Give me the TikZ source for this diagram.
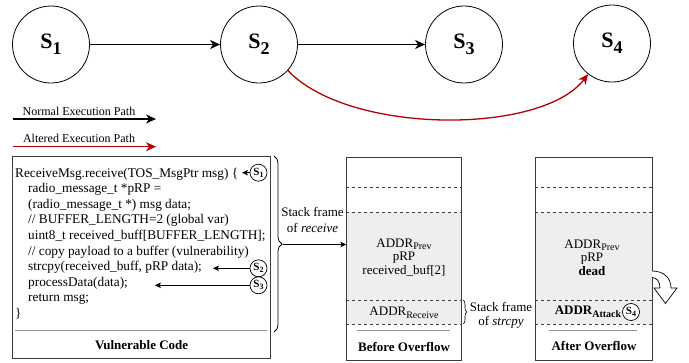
\documentclass[tikz,border=0pt]{standalone}
\usepackage{fontspec}
\setmainfont{Liberation Serif}
\usetikzlibrary{arrows.meta,decorations.pathreplacing,backgrounds}

\definecolor{altred}{RGB}{180,0,0}
\definecolor{stackgray}{RGB}{238,238,238}
\definecolor{boxline}{RGB}{60,60,60}
\definecolor{sepgray}{RGB}{150,150,150}

\newcommand{\statelab}[1]{S\raisebox{-6pt}{\fontsize{18}{18}\selectfont #1}}
\newcommand{\tagstate}[1]{S\raisebox{-2pt}{\fontsize{8}{8}\selectfont #1}}
\newcommand{\subtx}[1]{\raisebox{-2.5pt}{\fontsize{10}{10}\selectfont #1}}

\tikzset{
  statenode/.style={circle, draw, line width=0.8pt, minimum size=77pt, inner sep=0pt,
    font=\fontsize{22}{24}\selectfont\bfseries},
  tagnode/.style={circle, draw, line width=0.7pt, minimum size=17pt, inner sep=0pt,
    fill=white, font=\fontsize{11}{11}\selectfont\bfseries},
  normarrow/.style={line width=1.3pt, -{Stealth[length=10pt,width=9pt,inset=3pt]}},
  altarrow/.style={line width=1.3pt, altred, -{Stealth[length=10pt,width=9pt,inset=3pt]}},
  tagarrow/.style={line width=0.8pt, -{Stealth[length=6pt,width=5.5pt,inset=1.5pt]}},
  codeline/.style={anchor=base west, inner sep=0pt, font=\fontsize{13.3}{15.6}\selectfont},
  legendtxt/.style={inner sep=0pt, font=\fontsize{12}{14}\selectfont},
  lbl/.style={inner sep=0pt, align=center, font=\fontsize{13}{16}\selectfont},
  titletxt/.style={inner sep=0pt, font=\fontsize{13}{15}\selectfont\bfseries},
  codebox/.style={draw=boxline, line width=0.8pt, inner sep=0pt},
  stackbox/.style={draw=boxline, line width=0.8pt, inner sep=0pt},
  dashline/.style={dashed, line width=0.6pt, boxline},
  sepline/.style={line width=0.6pt, sepgray}
}

\begin{document}
\begin{tikzpicture}[x=1pt, y=-1pt]
\useasboundingbox (0,0) rectangle (689,362);

% Drawing states
\node[statenode] (s1) at (51,44.5) {\statelab{1}};
\node[statenode] (s2) at (259,44.5) {\statelab{2}};
\node[statenode] (s3) at (464,44.5) {\statelab{3}};
\node[statenode] (s4) at (612,43.5) {\statelab{4}};

% Normal and altered paths
\draw[normarrow] (s1) -- (s2);
\draw[normarrow] (s2) -- (s3);
\draw[altarrow] (s2.-42) .. controls (349,135) and (542,135) .. (s4.-128);

% Legend
\coordinate (nstart) at (13,119);
\coordinate (nend) at (156,119);
\draw[normarrow, line width=1.2pt] (nstart) -- (nend);
\node[legendtxt] (nlab) at (79,111.5) {Normal Execution Path};
\coordinate (astart) at (13,146.7);
\coordinate (aend) at (156,146.7);
\draw[altarrow, line width=1.2pt] (astart) -- (aend);
\node[legendtxt] (alab) at (79,138.5) {Altered Execution Path};

% Vulnerable code box
\node[codebox, minimum width=258pt, minimum height=202pt] (code) at (141.7,257) {};
\node[codeline] (l1) at (15,177) {ReceiveMsg.receive(TOS\_MsgPtr msg) \{};
\node[codeline] (l2) at (28,192.6) {radio\_message\_t *pRP =};
\node[codeline] (l3) at (28,208.2) {(radio\_message\_t *) msg data;};
\node[codeline] (l4) at (28,223.8) {// BUFFER\_LENGTH=2 (global var)};
\node[codeline] (l5) at (28,239.4) {uint8\_t received\_buff[BUFFER\_LENGTH];};
\node[codeline] (l6) at (28,255) {// copy payload to a buffer (vulnerability)};
\node[codeline] (l7) at (28,270.6) {strcpy(received\_buff, pRP data);};
\node[codeline] (l8) at (28,286.2) {processData(data);};
\node[codeline] (l9) at (28,301.8) {return msg;};
\node[codeline] (l10) at (15,317.4) {\}};
\draw[sepline] (15,330.5) -- (267,330.5);
\node[titletxt] (codetitle) at (141.7,345) {Vulnerable Code};

% Marking states in the code
\node[tagnode] (c1) at (258.5,172.7) {\tagstate{1}};
\node[tagnode] (c2) at (258.5,268.3) {\tagstate{2}};
\node[tagnode] (c3) at (258.5,285.3) {\tagstate{3}};
\coordinate (a1) at (242,172.7);
\coordinate (a2) at (213,268.3);
\coordinate (a3) at (155,285.3);
\draw[tagarrow] (c1) -- (a1);
\draw[tagarrow] (c2) -- (a2);
\draw[tagarrow] (c3) -- (a3);

% Stack frame of receive
\draw[decorate, decoration={brace, amplitude=8pt}, line width=0.8pt] (274,156) -- (274,332);
\coordinate (bracetip) at (283,244.5);
\node[lbl] (sfrecv) at (312.5,219.5) {Stack frame\\of \textit{receive}};

% Stack before overflow
\node[stackbox, minimum width=114.8pt, minimum height=203pt] (before) at (404.1,258.5) {};
\begin{scope}[on background layer]
\fill[stackgray] (before.west |- 0,212) rectangle (before.east |- 0,324);
\end{scope}
\draw[dashline] (before.west |- 0,187) -- (before.east |- 0,187);
\draw[dashline] (before.west |- 0,212) -- (before.east |- 0,212);
\draw[dashline] (before.west |- 0,300) -- (before.east |- 0,300);
\draw[dashline] (before.west |- 0,324) -- (before.east |- 0,324);
\node[lbl, font=\fontsize{13}{13.5}\selectfont] (prevb) at (404,257.5) {ADDR\subtx{Prev}\\pRP\\received\_buf[2]};
\node[lbl] (recv) at (404,313) {ADDR\subtx{Receive}};
\draw[sepline] (356.7,330.5) -- (450,330.5);
\node[titletxt] (beftitle) at (404,346.5) {Before Overflow};
\draw[tagarrow] (bracetip) -- (before.west |- bracetip);

% Stack frame of strcpy
\draw[decorate, decoration={brace, amplitude=4pt}, line width=0.6pt] (463,300) -- (463,324);
\node[lbl, font=\fontsize{13}{14}\selectfont] (sfstr) at (501,315) {Stack frame\\of \textit{strcpy}};

% Stack after overflow
\node[stackbox, minimum width=116.3pt, minimum height=203pt] (after) at (593.9,258.5) {};
\begin{scope}[on background layer]
\fill[stackgray] (after.west |- 0,212) rectangle (after.east |- 0,324);
\end{scope}
\draw[dashline] (after.west |- 0,187) -- (after.east |- 0,187);
\draw[dashline] (after.west |- 0,212) -- (after.east |- 0,212);
\draw[dashline] (after.west |- 0,300) -- (after.east |- 0,300);
\draw[dashline] (after.west |- 0,324) -- (after.east |- 0,324);
\node[lbl, font=\fontsize{13}{13.5}\selectfont] (preva) at (592,257.5) {ADDR\subtx{Prev}\\pRP\\\textbf{dead}};
\node[lbl, font=\fontsize{13}{15}\selectfont\bfseries] (attack) at (588,312) {ADDR\subtx{Attack}};
\node[tagnode] (t4) at (631,312) {\tagstate{4}};
\draw[sepline] (549,330.5) -- (637,330.5);
\node[titletxt] (afttitle) at (594,346) {After Overflow};

% Hollow curved arrow
\draw[line width=0.7pt, fill=white] (652,271) .. controls (664,271) and (671,278) .. (671,288)
  -- (677,288) -- (665.5,303.5) -- (654,288) -- (660,288)
  .. controls (660,282) and (657,277.5) .. (652,277.5);
\end{tikzpicture}
\end{document}
